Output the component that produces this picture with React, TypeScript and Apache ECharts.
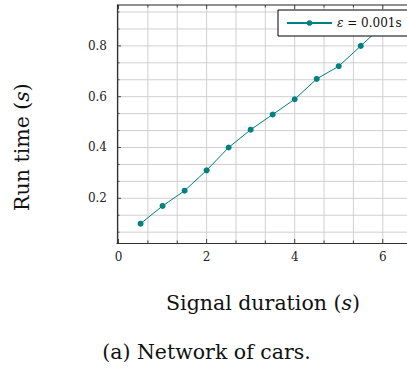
import React, { useEffect, useRef } from "react";
import * as echarts from "echarts";

const durations = [0.5, 1, 1.5, 2, 2.5, 3, 3.5, 4, 4.5, 5, 5.5, 6];
const runTimes = [0.1, 0.17, 0.23, 0.31, 0.4, 0.47, 0.53, 0.59, 0.67, 0.72, 0.8, 0.88];
const xMajorTicks = [0, 2, 4, 6];
const yMajorTicks = [0.2, 0.4, 0.6, 0.8];
const seriesName = "ε = 0.001s";

const X_MIN = -0.035;
const X_MAX = 6.55;
const Y_MIN = 0.024;
const Y_MAX = 0.961;

const FONT = "'DejaVu Serif', 'Liberation Serif', serif";

function subdivide(major: number[], step: number, lo: number, hi: number) {
  const out: { v: number; major: boolean }[] = [];
  const start = major[0];
  for (let k = -20; k <= 40; k++) {
    const v = start + (k * step) / 3;
    if (v >= lo - 1e-9 && v <= hi + 1e-9) out.push({ v, major: k % 3 === 0 });
  }
  return out;
}

export default function App() {
  const ref = useRef<HTMLDivElement>(null);
  useEffect(() => {
    if (!ref.current) return;
    const chart = echarts.init(ref.current, undefined, { renderer: "svg" });
    const xGrid = subdivide(xMajorTicks, 2, X_MIN, X_MAX);
    const yGrid = subdivide(yMajorTicks, 0.2, Y_MIN, Y_MAX);
    const gridColor = "#cfcfcf";
    const tickColor = "#444";

    chart.setOption({
      animation: false,
      grid: { left: 117, top: 5, width: 295.7, height: 238, containLabel: false },
      xAxis: {
        type: "value",
        min: X_MIN,
        max: X_MAX,
        axisLine: { show: true, onZero: false, lineStyle: { color: "#333", width: 1.2 } },
        axisTick: { show: false },
        splitLine: { show: false },
        axisLabel: {
          customValues: xMajorTicks,
          margin: 8,
          color: "#222",
          fontFamily: FONT,
          fontSize: 12,
          formatter: (v: number) => String(v),
        },
      },
      yAxis: {
        type: "value",
        min: Y_MIN,
        max: Y_MAX,
        axisLine: { show: true, onZero: false, lineStyle: { color: "#333", width: 1.2 } },
        axisTick: { show: false },
        splitLine: { show: false },
        axisLabel: {
          customValues: yMajorTicks,
          margin: 10,
          color: "#222",
          fontFamily: FONT,
          fontSize: 12,
          formatter: (v: number) => v.toFixed(1),
        },
      },
      legend: {
        left: 278,
        top: 10,
        padding: [7, 10, 7, 8],
        borderColor: "#000",
        borderWidth: 1,
        backgroundColor: "#fff",
        borderRadius: 0,
        itemWidth: 45,
        itemHeight: 7,
        itemGap: 0,
        data: [seriesName],
        formatter: () => "{i|ε} = 0.001s",
        textStyle: {
          fontFamily: FONT,
          fontSize: 12,
          color: "#111",
          rich: { i: { fontStyle: "italic", fontFamily: FONT, fontSize: 12 } },
        },
        z: 10,
      },
      graphic: [
        {
          type: "text",
          x: 22,
          y: 147,
          rotation: Math.PI / 2,
          style: {
            text: "Run time ({i|s})",
            fontFamily: FONT,
            fontSize: 20.5,
            fill: "#111",
            align: "center",
            verticalAlign: "middle",
            rich: { i: { fontStyle: "italic", fontFamily: FONT, fontSize: 20.5 } },
          },
        },
        {
          type: "text",
          x: 263,
          y: 303,
          style: {
            text: "Signal duration ({i|s})",
            fontFamily: FONT,
            fontSize: 20.5,
            fill: "#111",
            align: "center",
            verticalAlign: "middle",
            rich: { i: { fontStyle: "italic", fontFamily: FONT, fontSize: 20.5 } },
          },
        },
        {
          type: "text",
          x: 206.5,
          y: 352,
          style: {
            text: "(a) Network of cars.",
            fontFamily: FONT,
            fontSize: 20.5,
            fill: "#111",
            align: "center",
            verticalAlign: "middle",
          },
        },
      ],
      series: [
        {
          type: "custom",
          silent: true,
          z: 0,
          data: [0],
          renderItem: (_params: any, api: any) => {
            const children: any[] = [];
            for (const g of xGrid) {
              const p0 = api.coord([g.v, Y_MIN]);
              const p1 = api.coord([g.v, Y_MAX]);
              children.push({
                type: "line",
                shape: { x1: p0[0], y1: p0[1], x2: p1[0], y2: p1[1] },
                style: { stroke: gridColor, lineWidth: 1 },
              });
              const len = g.major ? 4 : 2.5;
              children.push({
                type: "line",
                shape: { x1: p0[0], y1: p0[1], x2: p0[0], y2: p0[1] - len },
                style: { stroke: tickColor, lineWidth: 1 },
              });
              children.push({
                type: "line",
                shape: { x1: p1[0], y1: p1[1], x2: p1[0], y2: p1[1] + len },
                style: { stroke: tickColor, lineWidth: 1 },
              });
            }
            for (const g of yGrid) {
              const p0 = api.coord([X_MIN, g.v]);
              const p1 = api.coord([X_MAX, g.v]);
              children.push({
                type: "line",
                shape: { x1: p0[0], y1: p0[1], x2: p1[0], y2: p1[1] },
                style: { stroke: gridColor, lineWidth: 1 },
              });
              const len = g.major ? 4 : 2.5;
              children.push({
                type: "line",
                shape: { x1: p0[0], y1: p0[1], x2: p0[0] + len, y2: p0[1] },
                style: { stroke: tickColor, lineWidth: 1 },
              });
            }
            const t0 = api.coord([X_MIN, Y_MAX]);
            const t1 = api.coord([X_MAX, Y_MAX]);
            children.push({
              type: "line",
              shape: { x1: t0[0], y1: t0[1], x2: t1[0], y2: t1[1] },
              style: { stroke: "#222", lineWidth: 1.2 },
            });
            return { type: "group", children };
          },
        },
        {
          type: "line",
          name: seriesName,
          z: 3,
          data: durations.map((d, i) => [d, runTimes[i]]),
          symbol: "circle",
          symbolSize: 6,
          color: "#008080",
          lineStyle: { color: "#008080", width: 1 },
          itemStyle: { color: "#008080" },
        },
      ],
    });
    return () => chart.dispose();
  }, []);
  return <div ref={ref} style={{ width: 407, height: 368, position: "absolute", left: 0, top: 0 }} />;
}
